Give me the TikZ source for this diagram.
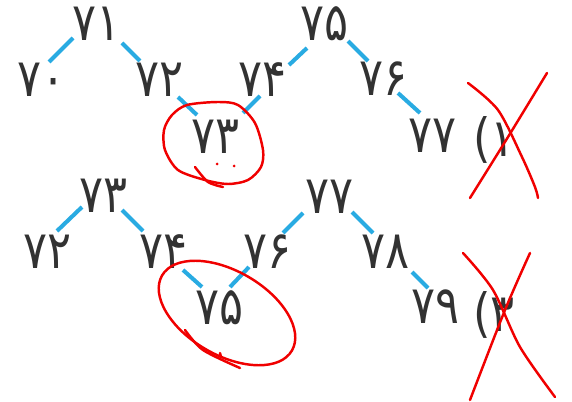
\documentclass[tikz,border=0pt]{standalone}
\usepackage{fontspec}
\newfontfamily\farsi[FakeStretch=0.85]{DejaVu Sans}
\definecolor{edgeblue}{RGB}{41,171,226}
\definecolor{digitgray}{RGB}{50,50,50}
\definecolor{penred}{RGB}{240,0,0}

\begin{document}
\begin{tikzpicture}[x=0.02cm,y=-0.02cm,
  num/.style={inner sep=0pt,font=\farsi\fontsize{30}{30}\selectfont,text=digitgray},
  edge/.style={edgeblue,line width=2.3pt},
  pen/.style={penred,line width=1.4pt,line cap=round,line join=round}]
\useasboundingbox (0,0) rectangle (572,402);
% first pair of trees
\node[num] (a70) at (42,80) {۷۰};
\node[num] (a71) at (97,24) {۷۱};
\node[num] (a72) at (160,80) {۷۲};
\node[num] (a73) at (216,137) {۷۳};
\node[num] (a74) at (263,80) {۷۴};
\node[num] (a75) at (325,24) {۷۵};
\node[num] (a76) at (384,79) {۷۶};
\node[num] (a77) at (433,136) {۷۷};
\node[num] (opt1) at (494,140) {(۱};
\draw[edge] ([shift={(-24,14)}]a71.center) -- ([shift={(7,-18)}]a70.center);
\draw[edge] ([shift={(25,19)}]a71.center) -- ([shift={(-20,-19)}]a72.center);
\draw[edge] ([shift={(18,17)}]a72.center) -- ([shift={(-19,-22)}]a73.center);
\draw[edge] ([shift={(-3,16)}]a74.center) -- ([shift={(27,-24)}]a73.center);
\draw[edge] ([shift={(-18,24)}]a75.center) -- ([shift={(26,-15)}]a74.center);
\draw[edge] ([shift={(23,17)}]a75.center) -- ([shift={(-16,-18)}]a76.center);
\draw[edge] ([shift={(14,14)}]a76.center) -- ([shift={(-13,-23)}]a77.center);
% second pair of trees
\node[num] (b72) at (48,252) {۷۲};
\node[num] (b73) at (104,196) {۷۳};
\node[num] (b74) at (164,252) {۷۴};
\node[num] (b75) at (220,308) {۷۵};
\node[num] (b76) at (268,252) {۷۶};
\node[num] (b77) at (330,197) {۷۷};
\node[num] (b78) at (386,252) {۷۸};
\node[num] (b79) at (436,307) {۷۹};
\node[num] (opt3) at (494,315) {(۳};
\draw[edge] ([shift={(-22,11)}]b73.center) -- ([shift={(9,-21)}]b72.center);
\draw[edge] ([shift={(18,14)}]b73.center) -- ([shift={(-21,-21)}]b74.center);
\draw[edge] ([shift={(19,18)}]b74.center) -- ([shift={(-18,-21)}]b75.center);
\draw[edge] ([shift={(-19,15)}]b76.center) -- ([shift={(10,-21)}]b75.center);
\draw[edge] ([shift={(-27,16)}]b77.center) -- ([shift={(15,-19)}]b76.center);
\draw[edge] ([shift={(22,15)}]b77.center) -- ([shift={(-13,-19)}]b78.center);
\draw[edge] ([shift={(26,20)}]b78.center) -- ([shift={(-8,-19)}]b79.center);
% red pen marks
\draw[pen] plot[smooth cycle] coordinates {(187,105) (218,102) (238,105) (255,123) (263,150)
  (261,167) (248,180) (228,184) (205,180) (178,170) (165,150) (164,130) (172,115)};
\draw[pen] plot[smooth] coordinates {(195,167) (208,182) (223,187)};
\fill[penred] (217,164) circle (1.5) (234,166) circle (1.5);
\draw[pen] plot[smooth] coordinates {(468,83) (498,110) (522,157) (535,187) (538,198)};
\draw[pen] plot[smooth] coordinates {(547,73) (508,137) (470,198)};
\draw[pen,rotate around={-30:(227,313)}] (227,313) ellipse [x radius=75, y radius=42];
\draw[pen] plot[smooth] coordinates {(185,330) (203,350) (240,368)};
\draw[pen] (220,353) -- (221,357);
\draw[pen] plot[smooth] coordinates {(463,253) (493,290) (520,347) (555,397)};
\draw[pen] plot[smooth] coordinates {(530,253) (505,310) (470,400)};
\end{tikzpicture}
\end{document}
